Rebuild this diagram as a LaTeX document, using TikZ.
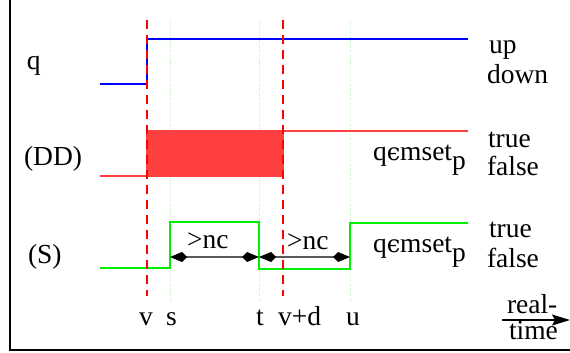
\documentclass[tikz,border=0pt]{standalone}
\usepackage{fontspec}
\setmainfont{Liberation Serif}
\newfontfamily\epsfont{DejaVu Serif}
\usetikzlibrary{arrows.meta}
\definecolor{dashred}{RGB}{255,0,0}
\definecolor{sigred}{RGB}{255,64,64}
\definecolor{sigblue}{RGB}{0,0,255}
\definecolor{siggreen}{RGB}{0,240,0}
\definecolor{dotgreen}{RGB}{190,240,190}
\definecolor{arrgray}{RGB}{90,90,90}
\newcommand{\msetp}{q{\epsfont\fontsize{24}{28}\selectfont ϵ}mset\raisebox{-9pt}{p}}
\begin{document}
\begin{tikzpicture}[x=1pt,y=-1pt,
  font=\fontsize{27.5}{32}\selectfont,
  lbl/.style={anchor=base west, inner sep=0pt, outer sep=0pt},
  frame/.style={line width=1.5pt, black},
  marker/.style={dashred, line width=1.2pt, dash pattern=on 9pt off 6pt},
  guide/.style={dotgreen, line width=0.6pt, dash pattern=on 1pt off 1.5pt},
  qsig/.style={sigblue, line width=1.4pt},
  ddsig/.style={sigred, line width=1.4pt},
  ssig/.style={siggreen, line width=1.4pt},
  interval/.style={arrgray, line width=2pt,
    {Kite[length=17pt,width=10pt,inset=5pt,black]}-{Kite[length=17pt,width=10pt,inset=5pt,black]}},
  timearrow/.style={black, line width=1.2pt, -{Stealth[length=18pt,width=11pt,inset=3pt]}}]
\useasboundingbox (0,0) rectangle (570,353);
% frame
\coordinate (ftop) at (10,0);
\coordinate (fcorner) at (10,350);
\coordinate (fright) at (570,350);
\draw[frame] (ftop) -- (fcorner) -- (fright);
% time guides
\coordinate (sTop) at (170,20);  \coordinate (sBot) at (170,302);
\coordinate (tTop) at (259,20);  \coordinate (tBot) at (259,302);
\coordinate (uTop) at (350,20);  \coordinate (uBot) at (350,302);
\draw[guide] (sTop) -- (sBot);
\draw[guide] (tTop) -- (tBot);
\draw[guide] (uTop) -- (uBot);
% q signal
\coordinate (q0) at (100,84);
\coordinate (q1) at (147,84);
\coordinate (q2) at (147,39);
\coordinate (q3) at (468,39);
\draw[qsig] (q0) -- (q1) -- (q2) -- (q3);
% DD signal
\coordinate (d0) at (100,176);
\coordinate (d1) at (147,176);
\coordinate (d2) at (283,131);
\coordinate (d3) at (468,131);
\draw[ddsig] (d0) -- (d1);
\draw[ddsig, fill=sigred] (d1) rectangle (d2);
\draw[ddsig] (d2) -- (d3);
% S signal
\coordinate (g0) at (100,268);
\coordinate (g1) at (170,268);
\coordinate (g2) at (170,222);
\coordinate (g3) at (259,222);
\coordinate (g4) at (259,269);
\coordinate (g5) at (350,269);
\coordinate (g6) at (350,223);
\coordinate (g7) at (468,223);
\draw[ssig] (g0) -- (g1) -- (g2) -- (g3) -- (g4) -- (g5) -- (g6) -- (g7);
% dashed markers
\coordinate (vTop) at (147,20);  \coordinate (vBot) at (147,296);
\coordinate (vdTop) at (283,20); \coordinate (vdBot) at (283,296);
\draw[marker] (vTop) -- (vBot);
\draw[marker] (vdTop) -- (vdBot);
% intervals
\coordinate (a1) at (170,257);
\coordinate (a2) at (259,257);
\coordinate (a3) at (350,257);
\draw[interval] (a1) -- (a2);
\draw[interval] (a2) -- (a3);
\node[lbl] (nc1) at (187,248) {>nc};
\node[lbl] (nc2) at (287,249) {>nc};
% left labels
\node[lbl] (lq) at (27,70) {q};
\node[lbl] (ldd) at (24,165) {(DD)};
\node[lbl] (ls) at (28,263) {(S)};
% right labels
\node[lbl] (up) at (489,53) {up};
\node[lbl] (down) at (487,83) {down};
\node[lbl] (true1) at (488,147) {true};
\node[lbl] (false1) at (487,175) {false};
\node[lbl] (true2) at (489,237) {true};
\node[lbl] (false2) at (487,267) {false};
\node[lbl] (m1) at (373,160) {\msetp};
\node[lbl] (m2) at (373,252) {\msetp};
% time labels
\node[lbl] (lv) at (139,325) {v};
\node[lbl] (ls2) at (166,325) {s};
\node[lbl] (lt) at (256,325) {t};
\node[lbl] (lvd) at (278,325) {v+d};
\node[lbl] (lu) at (346,325) {u};
% real-time
\node[lbl] (real) at (507,313) {real-};
\node[lbl] (time) at (509,339) {time};
\coordinate (ta0) at (502,320);
\coordinate (ta1) at (570,320);
\draw[timearrow] (ta0) -- (ta1);
\end{tikzpicture}
\end{document}
